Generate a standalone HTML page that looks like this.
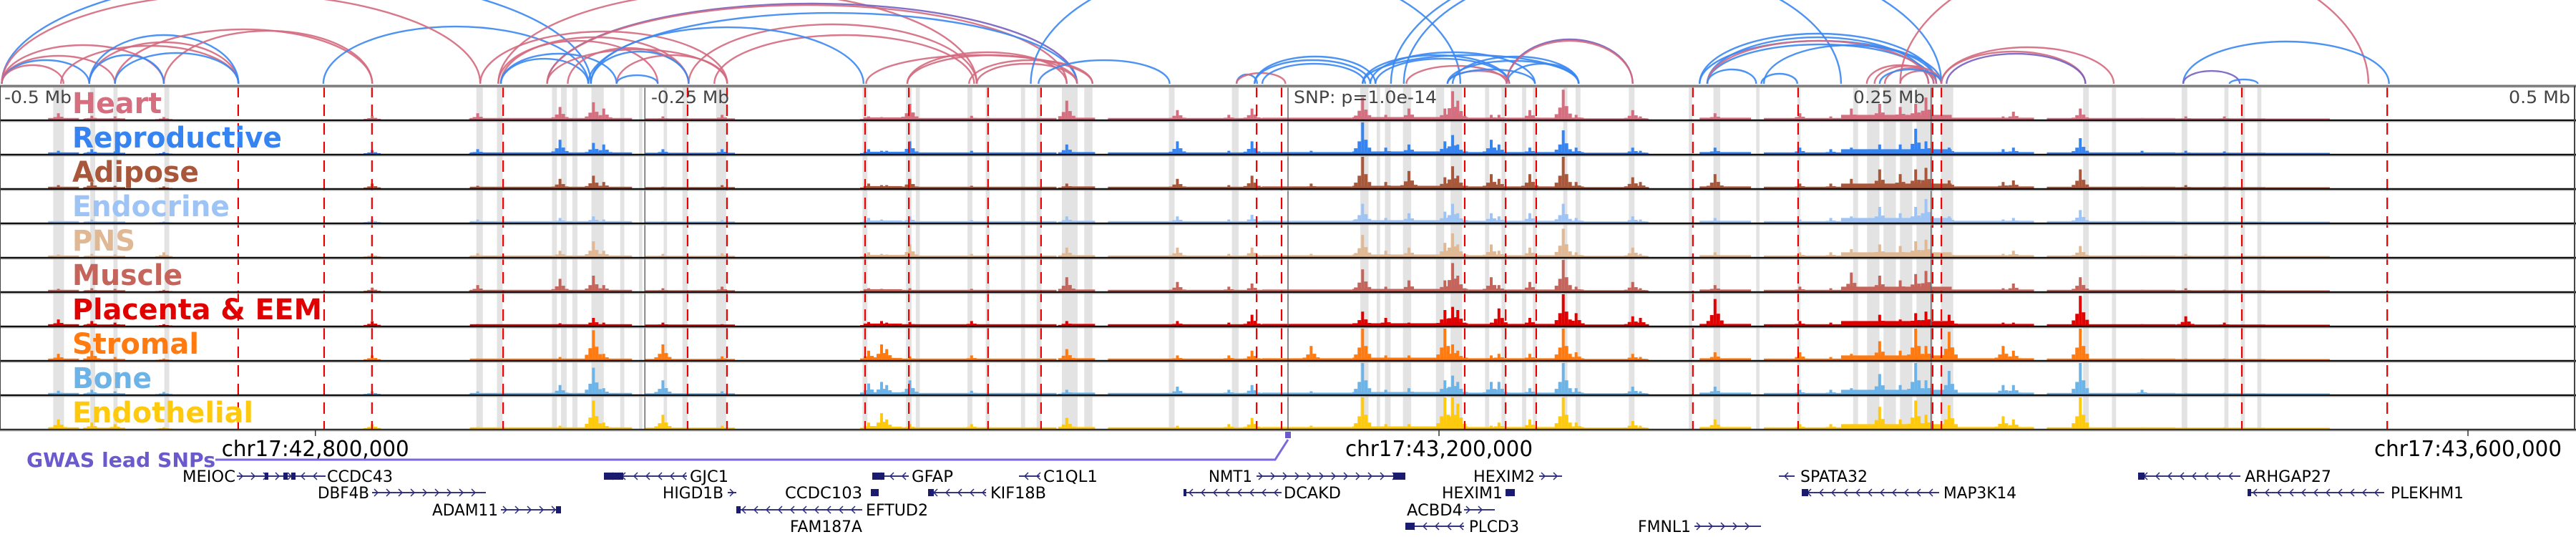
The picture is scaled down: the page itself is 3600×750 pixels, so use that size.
<!DOCTYPE html>
<html><head><meta charset="utf-8"><style>
html,body{margin:0;padding:0;background:#fff;}
svg{display:block;}
text{font-family:"DejaVu Sans","Liberation Sans",sans-serif;}
</style></head><body>
<svg id="fig" xmlns="http://www.w3.org/2000/svg" width="3600" height="750" viewBox="0 0 3600 750">
<rect x="0" y="0" width="3600" height="750" fill="#fff"/>
<g id="arcs"></g>
<g id="bands"></g>
<g id="tracks"></g>
<g id="grid"></g>
<g id="reds"></g>
<g id="frames"></g>
<g id="labels"></g>
<g id="axis"></g>
<g id="genes"></g>
</svg>
<script>
// ---- data ----
const trackNames = ["Heart","Reproductive","Adipose","Endocrine","PNS","Muscle","Placenta & EEM","Stromal","Bone","Endothelial"];
const trackColors = ["#d56f7f","#3584f2","#a9573a","#9ec3f5","#e0b893","#c4645b","#e00000","#ff7b11","#6cb3e8","#ffc90e"];
const labelWidths = [125,293,177,220,88,154,349,177,111,253];
const peakKb = [-478,-465,-456,-437,-356,-315,-283,-270,-266,-243,-220,-163,-158,-156,-147,-123,-86,-43,-23,-14,
 9,29,38,47,61,64,66,79,82,94,107,112,134,137,166,199,211,219,230,238,244,248,257,278,282,308,332,349,364];
const heart = [.2,.12,.1,.08,.12,.2,.4,.55,.35,.1,.15,.1,.08,.05,.5,.12,.6,.3,.15,.35,
 .05,.7,.15,.35,.35,.9,.6,.15,.15,.3,.95,.15,.3,.1,.2,.2,.1,.35,.5,.4,.5,.7,.1,.1,.25,.35,.05,.1,.1];
const reproductive = [.1,.15,.08,.06,.12,.15,.45,.35,.3,.15,.15,.15,.1,.1,.4,.1,.3,.4,.1,.4,
 .1,1,.2,.3,.4,.6,.3,.45,.3,.2,.75,.2,.2,.1,.2,.2,.15,.2,.3,.3,.8,.4,.2,.15,.2,.5,.1,.1,.08];
const adipose = [.1,.2,.08,.06,.15,.08,.3,.4,.2,.05,.1,.15,.1,.1,.3,.08,.15,.3,.1,.4,
 .15,1,.2,.55,.35,.7,.4,.45,.3,.45,1,.2,.35,.2,.45,.15,.15,.3,.6,.45,.6,.65,.25,.2,.25,.6,.05,.1,.05];
const endocrine = [.05,.1,.05,.04,.1,.1,.15,.2,.1,.05,.08,.15,.1,.05,.2,.08,.2,.2,.1,.25,
 .05,.6,.15,.3,.35,.6,.3,.3,.2,.3,.6,.15,.2,.1,.15,.1,.15,.2,.5,.3,.5,.75,.2,.1,.15,.4,.05,.05,.05];
const pns = [.08,.1,.08,.15,.1,.12,.2,.5,.2,.1,.12,.15,.1,.08,.4,.1,.3,.3,.1,.3,
 .1,.7,.2,.3,.45,.75,.4,.4,.2,.3,.9,.15,.3,.1,.15,.15,.15,.25,.4,.35,.5,.55,.15,.1,.2,.35,.05,.1,.05];
const muscle = [.08,.1,.08,.05,.12,.2,.4,.5,.2,.1,.15,.1,.08,.05,.1,.08,.45,.3,.15,.25,
 .05,.7,.15,.35,.35,.9,.5,.45,.2,.3,1,.15,.3,.1,.2,.15,.1,.6,.5,.35,.55,.65,.1,.1,.25,.45,.05,.1,.05];
const placenta = [.2,.15,.1,.05,.15,.05,.08,.25,.1,.1,.05,.12,.15,.1,.12,.15,.15,.15,.1,.35,
 .05,.45,.25,.1,.5,.6,.5,.1,.55,.25,1,.4,.3,.25,.85,.15,.1,.1,.35,.2,.4,.45,.35,.1,.1,.95,.05,.3,.1];
const stromal = [.2,.3,.1,.05,.15,.05,.1,.95,.2,.5,.12,.3,.5,.35,.12,.15,.35,.15,.15,.3,
 .45,1,.15,.15,1,.5,.3,.15,.2,.2,1,.25,.2,.1,.25,.25,.1,.2,.6,.3,1,.45,.9,.45,.3,1,.05,.05,.05];
const bone = [.12,.15,.1,.08,.1,.1,.3,.85,.2,.45,.1,.35,.4,.3,.45,.12,.15,.25,.15,.3,
 .1,1,.15,.2,.45,.6,.4,.4,.4,.2,1,.2,.25,.1,.25,.15,.15,.2,.65,.3,1,.45,.75,.3,.3,1,.15,.05,.05];
const endothelial = [.3,.2,.15,.05,.15,.05,.1,.9,.2,.45,.1,.2,.5,.3,.15,.15,.35,.1,.15,.35,
 .1,1,.15,.15,1,1,.8,.1,.2,.3,1,.2,.25,.1,.3,.15,.15,.15,.7,.3,.9,.45,.75,.4,.3,1,.05,.05,.05];
const seriesValues = [heart,reproductive,adipose,endocrine,pns,muscle,placenta,stromal,bone,endothelial];
const bgRanges = [[-482,-470],[-468,-452],[-318,-255],[-250,-215],[-165,-150],[-150,-90],[-88,-75],[-70,-8],[-10,25],[25,70],[70,115],[115,140],[160,180],[185,215],[215,258],[258,290],[295,345],[345,380],[380,405]];
const bgLevels = [.05,.04,.05,.04,.07,.05,.06,.05,.06,.08,.06,.04,.06,.05,.15,.06,.05,.04,.03];
const bandStarts = [-480,-465.6,-456.6,-436.8,-315.5,-307.5,-286.1,-282.6,-278.2,-270.8,-259.6,-252.3,-242.7,-235.4,-222.3,-165.4,-148.5,-144.7,-124.6,-117.5,-103.8,-97.7,-87.9,-79.2,-46.3,-21.8,
 28.1,34.5,37.7,44.7,57.5,63.2,76.6,83.0,91.0,95.2,107.0,111.8,132.5,155.8,165.4,182.0,198.0,219.7,225.1,231.5,237.9,244.3,253.8,309.1,320.3,347.4,364.0,370.4,376.8];
const bandEnds = [-475.8,-463.7,-455,-434.9,-313,-305.3,-284.2,-280.4,-276.2,-266,-258,-251,-241.4,-233.4,-218.4,-163.5,-146.3,-143.1,-122.7,-116,-102.2,-95.8,-81.8,-76,-44.1,-19.2,
 31.3,35.8,39.9,47.9,60.7,67.7,78.2,84.6,92.6,96.7,108.6,113.7,134.7,157.1,168.0,183.3,199.2,221.6,229.9,236.3,242.7,250.7,258.6,311.3,321.9,349.6,365.6,372.0,378.4];
const snpLineKb = [-408.1,-374.7,-356.1,-305.1,-233.4,-218.1,-164.4,-147.4,-116.6,-96.0,-12.2,-2.5,68.7,84.6,96.5,157.4,198.3,250.6,254.0,370.8,427.3];
// arcs: start kb, end kb, height px, colour class (0 pink,1 blue,2 purple)
const arcStart = [-500,-500,-500,-500,-477,-466,-466,-456,-437,-456,-466,-375,-500,-500,-307,-288,-288,-272,-233,-223,
 -314,-307,-306,-306,-306,-288,-280,-271,-261,-261,-271,-164,-148,-148,-124,-121,-97,-20,-20,
 -13,-13,-10,-100,45,29,32,34,29,46,62,64,62,85,85,85,62,160,163,160,163,163,163,184,185,40,238,225,228,232,238,230,254,254,256,348,348,366];
const arcEnd = [-437,-456,-466,-476,-408,-408,-408,-356,-356,-408,-437,-272,-271,-314,-121,-82,-86,-82,-121,-122,
 -218,-245,-233,-272,-261,-218,-233,-233,-218,-245,-165,-76,-82,-86,-76,-82,-46,-12,-1,
 34,32,30,67,215,86,96,86,113,85,86,113,113,113,134,134,96,252,249,254,251,249,182,198,252,254,420,251,254,252,254,254,310,321,310,428,370,377];
const arcHeight = [54,39,33,26,53,58,68,76,74,43,40,80,152,126,130,112,110,99,83,68,
 73,60,65,35,42,48,50,45,40,12,79,40,40,44,33,28,33,13,15,
 38,33,28,170,170,40,44,35,40,25,18,38,32,28,62,60,20,70,65,60,55,60,20,14,54,190,190,26,25,22,18,20,45,51,42,59,18,6];
const arcColor = [0,0,1,0,0,0,1,0,0,1,1,1,1,0,0,2,0,1,0,0,
 0,0,0,1,1,0,0,1,0,1,1,0,0,0,0,0,1,1,0,
 1,1,1,1,1,1,1,1,1,0,0,1,1,1,2,0,1,1,1,1,1,0,1,1,1,1,0,0,0,0,0,1,0,0,2,1,2,1];
const axisTickLabels = ["chr17:42,800,000","chr17:43,200,000","chr17:43,600,000"];
const axisTickKb = [-378.1,58.7,458.7];

// ---- scales ----
const NS="http://www.w3.org/2000/svg";
const X0=1800, PXKB=3.595, TOP=120, TH=48, AMP=44;
function xs(kb){return X0+kb*PXKB;}
function mk(tag,parent){const e=document.createElementNS(NS,tag);parent.appendChild(e);return e;}
const G=id=>document.getElementById(id);

// arcs
const arcCols=["#d4697e","#3a87f2","#7560c0"];
for(let i=0;i<arcStart.length;i++){
  const x1=xs(arcStart[i]),x2=xs(arcEnd[i]),rx=(x2-x1)/2,h=arcHeight[i];
  const p=mk('path',G('arcs'));
  
  
  p.setAttribute('d',`M${x1},117 A${rx},${h} 0 0 1 ${x2},117`);
  p.setAttribute('fill','none');p.setAttribute('stroke',arcCols[arcColor[i]]);
  p.setAttribute('stroke-width','2.4');p.setAttribute('opacity','0.9');
}
// bands
for(let i=0;i<bandStarts.length;i++){
  const r=mk('rect',G('bands'));
  
  
  const a=xs(bandStarts[i]),b=xs(bandEnds[i]);
  r.setAttribute('x',a);r.setAttribute('width',Math.max(3,b-a));
  r.setAttribute('y',TOP);r.setAttribute('height',TH*10);r.setAttribute('fill','#e3e3e3');
}
// tracks
for(let t=0;t<10;t++){
  const g=mk('g',G('tracks'));
  
  
  const base=TOP+TH*(t+1)-1, col=trackColors[t];
  for(let j=0;j<bgRanges.length;j++){
    const r=mk('rect',g);
    
    
    const a=xs(bgRanges[j][0]),b=xs(bgRanges[j][1]),h=Math.max(1.5,bgLevels[j]*AMP);
    r.setAttribute('x',a);r.setAttribute('width',b-a);r.setAttribute('y',base-h);r.setAttribute('height',h);r.setAttribute('fill',col);
  }
  const vals=seriesValues[t];
  for(let k=0;k<peakKb.length;k++){
    const cx=xs(peakKb[k]),v=vals[k]*AMP;
    const parts=[[-2,4,1],[-7,5,0.4],[2,5,0.45],[-12,5,0.18],[7,5,0.2]];
    for(const [dx,w,f] of parts){
      const r=mk('rect',g);
      
      
      r.setAttribute('x',cx+dx);r.setAttribute('width',w);r.setAttribute('y',base-v*f);r.setAttribute('height',v*f);r.setAttribute('fill',col);
    }
  }
}
// grid lines
[-250,0,250].forEach(kb=>{
  const l=mk('line',G('grid'));
  
  
  l.setAttribute('x1',xs(kb));l.setAttribute('x2',xs(kb));l.setAttribute('y1',TOP);l.setAttribute('y2',600);
  l.setAttribute('stroke','#666');l.setAttribute('stroke-width','1.5');
});
// red dashed lines
snpLineKb.forEach(kb=>{
  const l=mk('line',G('reds'));
  
  
  l.setAttribute('x1',xs(kb));l.setAttribute('x2',xs(kb));l.setAttribute('y1',TOP);l.setAttribute('y2',600);
  l.setAttribute('stroke','#ee0000');l.setAttribute('stroke-width','2.2');l.setAttribute('stroke-dasharray','16 10');
});
// frames
for(let t=0;t<=10;t++){
  const y=TOP+TH*t;
  const l=mk('line',G('frames'));
  
  
  l.setAttribute('x1',0);l.setAttribute('x2',3600);l.setAttribute('y1',y);l.setAttribute('y2',y);
  l.setAttribute('stroke',(t==0)?'#777':(t==10?'#333':'#111'));l.setAttribute('stroke-width',t==0?3:2.5);
  const l2=mk('line',G('frames'));
  
  
  l2.setAttribute('x1',0);l2.setAttribute('x2',3600);l2.setAttribute('y1',y+2);l2.setAttribute('y2',y+2);
  l2.setAttribute('stroke','#bbb');l2.setAttribute('stroke-width',1);
}
[[0],[3598]].forEach(([x])=>{
  const l=mk('line',G('frames'));
  
  
  l.setAttribute('x1',x);l.setAttribute('x2',x);l.setAttribute('y1',TOP);l.setAttribute('y2',600);
  l.setAttribute('stroke','#444');l.setAttribute('stroke-width',2);
});
// track labels
for(let t=0;t<10;t++){
  const tx=mk('text',G('labels'));
  
  
  tx.setAttribute('x',101);tx.setAttribute('y',TOP+TH*t+38);
  tx.setAttribute('font-size','40');tx.setAttribute('font-weight','bold');tx.setAttribute('fill',trackColors[t]);
  tx.setAttribute('textLength',labelWidths[t]);tx.setAttribute('lengthAdjust','spacingAndGlyphs');
  tx.textContent=trackNames[t];
}
// scale labels in heart track
const scaleLabels=[["-0.5 Mb",6,94],["-0.25 Mb",910,109],["SNP: p=1.0e-14",1808,200],["0.25 Mb",2590,100],["0.5 Mb",3506,86]];
scaleLabels.forEach(([s,x,w])=>{
  const tx=mk('text',G('labels'));
  
  
  tx.setAttribute('x',x);tx.setAttribute('y',144);tx.setAttribute('font-size','24');tx.setAttribute('fill','#444');
  tx.setAttribute('textLength',w);tx.setAttribute('lengthAdjust','spacingAndGlyphs');
  tx.textContent=s;
});
// axis ticks
for(let i=0;i<axisTickKb.length;i++){
  const x=xs(axisTickKb[i]);
  const l=mk('line',G('axis'));
  
  
  l.setAttribute('x1',x);l.setAttribute('x2',x);l.setAttribute('y1',600);l.setAttribute('y2',609);l.setAttribute('stroke','#333');l.setAttribute('stroke-width',1.5);
  const tx=mk('text',G('axis'));
  
  
  tx.setAttribute('x',x);tx.setAttribute('y',637);tx.setAttribute('font-size','30');tx.setAttribute('text-anchor','middle');tx.setAttribute('fill','#000');
  tx.setAttribute('textLength',262);tx.setAttribute('lengthAdjust','spacingAndGlyphs');
  tx.textContent=axisTickLabels[i];
}
// GWAS
(function(){
  const g=G('axis');
  const t=mk('text',g);
  
  
  t.setAttribute('x',37);t.setAttribute('y',652);t.setAttribute('font-size','28');t.setAttribute('font-weight','bold');t.setAttribute('fill','#6a5acd');
  t.setAttribute('textLength',264);t.setAttribute('lengthAdjust','spacingAndGlyphs');
  t.textContent='GWAS lead SNPs';
  const p=mk('polyline',g);
  
  
  p.setAttribute('points',`301,642 ${xs(-5)},642 ${xs(0)},614`);
  p.setAttribute('fill','none');p.setAttribute('stroke','#7b68dd');p.setAttribute('stroke-width','3');
  const r=mk('rect',g);
  
  
  r.setAttribute('x',xs(0)-4);r.setAttribute('y',603);r.setAttribute('width',8);r.setAttribute('height',9);r.setAttribute('fill','#6a5acd');
})();
// genes: name, lineStart, lineEnd, row, strand, labelX, labelW, boxes
const genes=[
 ["MEIOC",331,413,0,1,255,74,[[370,375],[396,402],[407,413]]],
 ["CCDC43",413,455,0,-1,457,92,[]],
 ["GJC1",844,960,0,-1,964,54,[[844,871]]],
 ["DBF4B",520,679,1,1,444,72,[]],
 ["HIGD1B",1017,1029,1,1,926,85,[]],
 ["CCDC103",1217,1228,1,1,1097,108,[[1217,1228]]],
 ["ADAM11",700,784,2,1,604,92,[[777,784]]],
 ["EFTUD2",1029,1205,2,-1,1210,87,[[1029,1035]]],
 ["FAM187A",0,0,3,1,1104,101,[]],
 ["GFAP",1219,1270,0,-1,1274,58,[[1219,1236]]],
 ["C1QL1",1424,1453,0,-1,1458,76,[]],
 ["KIF18B",1297,1378,1,-1,1384,78,[[1297,1305]]],
 ["NMT1",1756,1964,0,1,1689,61,[[1947,1964]]],
 ["HEXIM2",2151,2183,0,1,2059,86,[]],
 ["SPATA32",2486,2508,0,-1,2516,94,[]],
 ["ARHGAP27",2988,3131,0,-1,3137,121,[[2988,2997]]],
 ["DCAKD",1654,1791,1,-1,1794,80,[[1654,1658]]],
 ["HEXIM1",2104,2117,1,1,2015,85,[[2104,2117]]],
 ["MAP3K14",2518,2710,1,-1,2716,102,[[2518,2527]]],
 ["PLEKHM1",3141,3332,1,-1,3341,102,[[3141,3146]]],
 ["ACBD4",2046,2089,2,1,1966,78,[]],
 ["PLCD3",1964,2046,3,-1,2053,70,[[1964,1977]]],
 ["FMNL1",2368,2461,3,1,2289,74,[]]
];
const rowY=[665,688,712,735];
genes.forEach(gn=>{
  const [name,a,b,row,st,lx,lw,boxes]=gn, y=rowY[row];
  const g=mk('g',G('genes'));
  
  
  if(b>a){
    const l=mk('line',g);
    
    
    l.setAttribute('x1',a);l.setAttribute('x2',b);l.setAttribute('y1',y);l.setAttribute('y2',y);l.setAttribute('stroke','#1a1a6e');l.setAttribute('stroke-width','1.8');
    for(let x=a+8;x<b-3;x+=17){
      const c=mk('polyline',g);
      
      
      const d=st*5;
      c.setAttribute('points',`${x-d},${y-5} ${x},${y} ${x-d},${y+5}`);
      c.setAttribute('fill','none');c.setAttribute('stroke','#2a2a80');c.setAttribute('stroke-width','1.5');
    }
  }
  boxes.forEach(([p,q])=>{
    const r=mk('rect',g);
    
    
    r.setAttribute('x',p);r.setAttribute('width',q-p);r.setAttribute('y',y-5);r.setAttribute('height',10);r.setAttribute('fill','#1a1a6e');
  });
  const t=mk('text',g);
  
  
  t.setAttribute('x',lx);t.setAttribute('y',y+8);t.setAttribute('font-size','22');t.setAttribute('fill','#000');
  t.setAttribute('textLength',lw);t.setAttribute('lengthAdjust','spacingAndGlyphs');
  t.textContent=name;
});
</script>
</body></html>
